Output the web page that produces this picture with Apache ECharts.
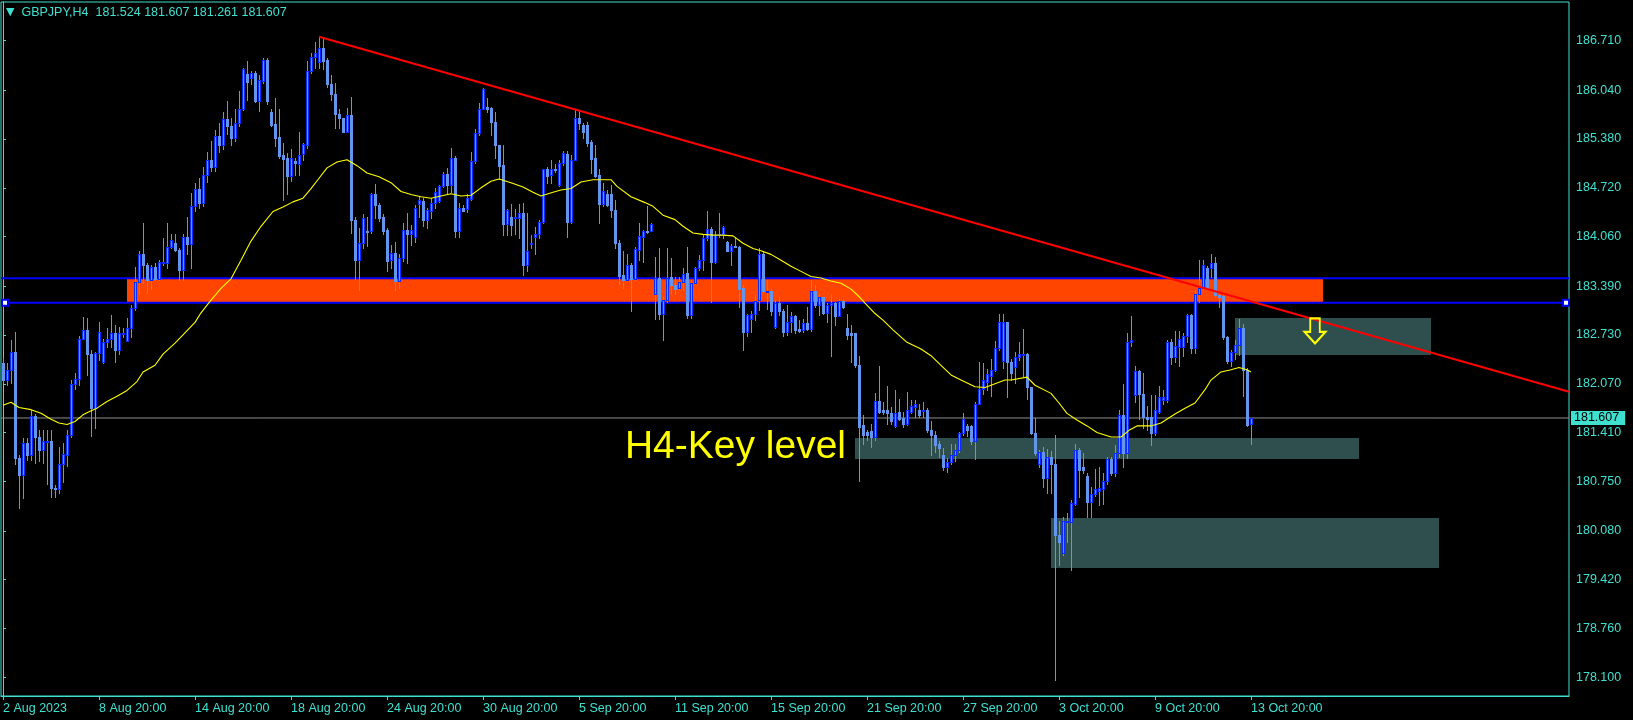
<!DOCTYPE html>
<html><head><meta charset="utf-8">
<script src="https://cdn.jsdelivr.net/npm/echarts@6.0.0/dist/echarts.min.js"></script>
<style>html,body{margin:0;padding:0;background:#000;}#c{width:1633px;height:720px;}</style>
</head><body><div id="c"></div>
<script>
// ---------- DATA ----------
const symbolName = 'GBPJPY,H4';
const xLabels = ['2 Aug 2023','8 Aug 20:00','14 Aug 20:00','18 Aug 20:00','24 Aug 20:00','30 Aug 20:00','5 Sep 20:00','11 Sep 20:00','15 Sep 20:00','21 Sep 20:00','27 Sep 20:00','3 Oct 20:00','9 Oct 20:00','13 Oct 20:00'];
const yTicks = [178.100,178.760,179.420,180.080,180.750,181.410,182.070,182.730,183.390,184.060,184.720,185.380,186.040,186.710];

const open = [
182.35,182.12,182.26,182.50,181.06,180.84,181.27,181.11,181.63,181.35,
181.17,181.29,181.29,180.66,180.64,180.98,181.11,181.38,182.07,182.13,
182.67,182.80,182.47,181.74,182.48,182.37,182.63,182.68,182.75,182.53,
182.75,182.65,182.82,183.09,183.44,183.83,183.67,183.47,183.65,183.49,
183.70,183.70,183.92,183.98,183.88,183.61,184.05,183.96,184.48,184.70,
184.52,184.90,185.10,185.00,185.42,185.30,185.65,185.55,185.40,185.60,
185.79,186.26,186.21,186.27,185.90,186.17,186.45,185.75,185.59,185.41,
185.17,185.12,184.88,185.08,185.04,185.18,185.30,186.30,186.49,186.42,
186.61,186.45,186.12,185.99,185.72,185.66,185.48,185.70,184.29,183.75,
183.97,184.14,184.13,184.63,184.49,184.32,184.15,183.74,183.84,183.46,
183.77,184.15,184.10,184.05,184.50,184.54,184.28,184.41,184.52,184.54,
184.74,184.91,184.76,185.13,184.14,184.45,184.44,184.57,185.08,185.46,
185.79,185.81,185.80,185.61,185.30,185.03,184.23,184.33,184.31,184.31,
184.38,183.68,183.97,184.06,184.10,184.26,184.97,184.89,184.98,184.76,
185.05,185.18,184.26,185.10,185.67,185.57,185.57,185.34,185.12,184.89,
184.50,184.64,184.64,184.42,183.98,183.54,183.48,183.68,183.49,183.88,
184.06,184.14,184.14,183.29,183.50,183.02,183.20,183.51,183.41,183.36,
183.45,183.57,183.00,183.43,183.63,183.74,184.04,184.16,183.72,184.08,
184.10,183.99,183.87,183.93,183.92,183.36,182.77,182.95,183.01,183.20,
183.83,183.32,183.33,182.84,183.16,183.05,182.77,182.90,182.99,182.81,
182.80,182.89,182.81,183.32,183.13,183.24,183.03,183.13,183.16,182.99,
183.19,182.82,182.75,182.75,182.33,181.51,181.42,181.43,181.35,181.84,
181.71,181.71,181.67,181.50,181.69,181.61,181.53,181.69,181.76,181.71,
181.70,181.71,181.44,181.38,181.25,181.11,180.95,181.01,181.11,181.17,
181.40,181.50,181.50,181.29,181.80,182.00,182.10,182.17,182.26,182.55,
182.38,182.90,182.37,182.30,182.43,182.46,182.47,182.02,181.40,180.98,
181.15,180.80,181.08,180.99,180.02,179.78,180.20,180.20,180.45,181.17,
180.94,180.82,180.47,180.58,180.62,180.64,180.75,181.05,180.86,181.13,
181.65,181.13,182.64,181.92,182.24,181.93,181.62,181.62,181.40,181.69,
181.85,181.85,182.64,182.43,182.57,182.57,182.72,183.00,182.56,183.29,
183.37,183.63,183.63,183.71,183.27,183.26,182.70,182.38,182.50,182.60,
182.83,182.26,181.524];

const high = [
182.42,182.35,182.66,182.77,181.10,181.33,181.33,181.71,181.66,181.45,
181.45,181.45,181.45,180.70,181.22,181.27,181.44,182.12,182.21,182.71,
182.97,182.96,182.53,182.50,182.90,182.68,182.82,183.00,182.86,182.84,
182.82,182.96,183.14,183.65,183.86,184.25,183.70,183.68,183.70,183.75,
184.04,184.24,184.10,184.10,183.90,184.10,184.33,184.65,184.78,184.85,
185.00,185.20,185.35,185.50,185.60,185.75,185.90,185.66,185.79,186.03,
186.34,186.43,186.30,186.30,186.25,186.48,186.47,185.78,185.93,185.78,
185.33,185.19,185.24,185.12,185.47,185.33,186.43,186.54,186.69,186.77,
186.76,186.48,186.25,186.14,185.78,185.67,185.80,185.95,184.32,184.18,
184.36,184.33,184.65,184.77,184.51,184.36,184.17,183.95,183.99,183.82,
184.24,184.38,184.22,184.49,184.61,184.58,184.45,184.58,184.72,184.76,
184.94,184.99,185.26,185.15,184.51,184.49,184.63,185.21,185.51,185.87,
186.07,185.93,185.82,185.75,185.30,185.30,184.44,184.50,184.43,184.50,
184.51,184.38,184.08,184.19,184.29,184.98,185.00,185.10,185.04,185.10,
185.22,185.22,185.16,185.77,185.76,185.60,185.61,185.37,185.30,184.98,
184.79,184.69,184.76,184.55,184.01,183.86,183.83,183.71,183.92,184.25,
184.15,184.47,184.24,183.79,183.90,183.25,183.90,183.77,183.52,183.52,
183.63,183.92,183.47,183.65,183.81,184.09,184.40,184.19,184.13,184.38,
184.20,184.00,183.96,184.06,183.93,183.40,183.02,183.05,183.27,183.90,
183.87,183.47,183.36,183.20,183.25,183.08,183.13,183.04,183.00,182.93,
182.95,183.11,183.47,183.41,183.28,183.25,183.16,183.28,183.18,183.22,
183.21,183.02,182.86,182.76,182.44,181.65,181.44,181.52,181.95,182.31,
181.83,182.04,181.75,181.98,181.87,181.69,181.96,181.85,181.85,181.80,
181.83,181.74,181.56,181.43,181.29,181.20,181.07,181.25,181.26,181.42,
181.67,181.53,181.51,181.83,182.37,182.35,182.27,182.40,182.65,183.02,
183.02,182.91,182.41,182.50,182.64,182.81,182.48,182.03,181.61,181.17,
181.22,181.19,181.16,181.38,180.22,180.27,180.32,180.50,181.25,181.20,
181.13,180.86,180.68,180.92,180.95,180.86,181.08,181.08,181.24,181.72,
182.07,182.75,182.99,182.31,182.25,182.21,181.77,181.92,181.92,182.04,
181.98,182.66,182.68,182.79,182.79,182.75,183.02,183.02,183.34,183.74,
183.74,183.66,183.82,183.78,183.33,183.29,182.71,182.53,182.66,182.94,
182.88,182.28,181.607];

const low = [
182.10,182.05,182.08,180.99,180.39,180.52,181.04,181.04,181.00,181.02,
181.00,180.72,180.54,180.54,180.59,180.74,180.96,181.35,182.00,182.05,
182.67,182.19,181.36,181.47,182.39,182.35,182.57,182.57,182.36,182.47,
182.70,182.65,182.70,183.07,183.29,183.43,183.30,183.35,183.47,183.48,
183.68,183.63,183.91,183.86,183.48,183.47,183.83,183.63,184.40,184.45,
184.48,184.80,184.95,184.95,185.20,185.25,185.45,185.30,185.35,185.55,
185.77,185.91,186.12,185.88,185.76,186.14,185.85,185.55,185.28,185.13,
184.55,184.63,184.81,184.90,184.90,185.10,185.26,186.27,186.34,186.34,
186.33,186.09,185.91,185.53,185.53,185.47,185.47,184.11,183.49,183.34,
183.91,183.93,184.11,184.31,184.27,184.09,183.59,183.64,183.34,183.37,
183.73,183.70,183.95,183.99,184.33,184.20,184.17,184.31,184.45,184.53,
184.73,184.63,184.66,184.06,184.05,184.40,184.39,184.55,185.06,185.44,
185.78,185.75,185.44,185.12,184.85,184.08,184.08,184.08,184.10,184.04,
183.54,183.59,183.90,183.83,184.04,184.25,184.78,184.78,184.94,184.74,
185.03,184.06,184.24,185.10,185.52,185.39,185.28,184.92,184.87,184.25,
184.47,184.47,184.32,183.90,183.42,183.37,183.47,183.06,183.48,183.75,
183.72,184.11,184.13,182.94,182.94,182.66,183.18,183.29,183.29,183.35,
183.34,182.96,182.96,183.42,183.61,183.61,184.02,183.18,183.71,184.06,
184.04,183.86,183.68,183.92,183.11,182.53,182.71,182.77,182.93,183.07,
183.31,183.08,183.00,182.83,183.00,182.71,182.73,182.77,182.76,182.77,
182.77,182.80,182.78,183.11,183.00,183.02,182.91,182.45,182.86,182.98,
183.10,182.68,182.37,182.30,180.76,181.26,181.31,181.22,181.31,181.68,
181.66,181.53,181.53,181.49,181.58,181.49,181.51,181.67,181.62,181.62,
181.62,181.42,181.11,181.15,181.08,180.90,180.87,180.98,181.02,181.15,
181.38,181.37,181.26,181.05,181.79,181.93,181.99,181.90,182.24,182.53,
182.28,181.89,182.12,182.08,182.39,182.17,181.87,181.39,181.11,180.95,
180.68,180.59,180.59,178.06,179.62,179.75,179.93,179.55,180.43,180.54,
180.86,180.27,180.27,180.55,180.43,180.45,180.72,180.84,180.82,181.08,
180.95,181.06,182.58,181.83,181.60,181.47,181.44,181.24,181.38,181.67,
181.80,181.83,182.34,182.36,182.31,182.45,182.64,182.48,182.48,183.18,
183.34,183.36,183.52,183.25,183.11,182.68,182.35,182.31,182.40,182.46,
181.90,181.50,181.261];

const close = [
182.12,182.26,182.50,181.06,180.84,181.27,181.11,181.63,181.35,181.17,
181.29,181.30,180.66,180.64,180.98,181.12,181.38,182.07,182.13,182.67,
182.80,182.47,181.74,182.48,182.77,182.63,182.68,182.75,182.53,182.75,
182.76,182.82,183.09,183.44,183.83,183.67,183.47,183.65,183.49,183.72,
183.72,183.92,184.02,183.88,183.61,184.05,183.96,184.48,184.70,184.52,
184.90,185.10,185.00,185.42,185.30,185.65,185.55,185.40,185.60,185.79,
186.33,186.15,186.27,185.90,186.18,186.45,185.90,185.57,185.39,185.15,
185.11,184.88,185.12,185.06,185.17,185.31,186.30,186.49,186.54,186.61,
186.44,186.12,185.99,185.72,185.66,185.48,185.70,184.29,183.75,183.97,
184.31,184.12,184.64,184.49,184.31,184.14,183.73,183.84,183.46,183.77,
184.15,184.10,184.15,184.45,184.55,184.28,184.42,184.52,184.67,184.74,
184.91,184.76,185.13,184.14,184.45,184.41,184.58,185.08,185.46,185.79,
186.06,185.79,185.61,185.30,185.02,184.23,184.42,184.22,184.33,184.38,
183.68,183.86,183.98,184.10,184.26,184.97,184.88,184.98,184.98,185.05,
185.19,184.26,185.10,185.67,185.60,185.47,185.33,185.11,184.88,184.50,
184.68,184.49,184.42,183.97,183.53,183.48,183.68,183.49,183.89,184.07,
184.14,184.14,184.23,183.50,183.02,183.20,183.50,183.41,183.35,183.45,
183.56,183.00,183.43,183.64,183.74,184.04,184.16,183.72,184.08,184.10,
184.19,183.87,183.93,183.93,183.35,182.77,183.00,183.01,183.19,183.83,
183.32,183.33,183.05,183.16,183.05,182.77,182.90,182.99,182.80,182.78,
182.89,182.81,183.32,183.13,183.24,183.03,183.13,183.16,182.99,183.19,
183.11,182.73,182.73,182.32,181.49,181.38,181.38,181.35,181.84,181.69,
181.69,181.67,181.57,181.68,181.60,181.53,181.71,181.77,181.79,181.65,
181.71,181.44,181.38,181.24,181.20,180.95,181.01,181.11,181.17,181.40,
181.59,181.44,181.29,181.80,182.00,182.12,182.20,182.26,182.55,182.90,
182.90,182.37,182.21,182.43,182.47,182.47,182.02,181.40,181.13,181.15,
180.80,181.08,180.99,180.02,179.93,180.22,180.22,180.46,181.17,180.90,
180.90,180.47,180.58,180.64,180.66,180.75,181.05,180.86,181.13,181.65,
181.13,182.64,182.66,182.24,181.93,181.62,181.60,181.40,181.72,181.89,
181.89,182.64,182.43,182.58,182.68,182.72,183.00,182.56,183.29,183.37,
183.68,183.37,183.71,183.27,183.25,182.70,182.38,182.50,182.60,182.83,
182.26,181.51,181.607];

// moving average (bar position, price)
const maX = [0,2,4,7,9.5,12,14,16,18,20,21.5,23.5,26,28.5,31,33.5,35,38,40,43,45,48,49.5,52,54.5,57,59.5,62,64.5,67.5,70,72.5,75,77,79,81,83.5,86,88.5,91,94,97,99.5,102,104.5,107,109.5,112,114.5,117,119.5,122,124,127,130,132.5,134.5,137.5,139.5,142,144.5,147.5,152,153.5,157,160.5,162.5,165,168,170,172.5,175,177.5,180,182.5,185,187.5,189.5,192,194.5,197,199.5,202,204.5,207,209.5,212,214,215.5,218,220,222.5,226,229.5,232,234.5,237,239.5,243,245.5,248,250.5,252,256,258,262,264,266,268.5,271,273.5,277,279.5,281.5,283.5,287,289.5,293,295.5,298,300.5,302,304.5,307,309,311,312];
const maY = [181.78,181.82,181.75,181.72,181.67,181.59,181.54,181.52,181.56,181.65,181.69,181.74,181.83,181.90,181.98,182.10,182.23,182.32,182.47,182.62,182.73,182.90,183.03,183.20,183.36,183.49,183.74,184.00,184.20,184.40,184.46,184.53,184.58,184.71,184.85,184.99,185.07,185.10,185.02,184.92,184.87,184.79,184.67,184.63,184.60,184.58,184.61,184.64,184.61,184.62,184.72,184.81,184.84,184.79,184.73,184.66,184.61,184.66,184.69,184.71,184.80,184.83,184.83,184.74,184.60,184.52,184.47,184.35,184.29,184.20,184.11,184.09,184.08,184.08,184.07,183.97,183.90,183.87,183.82,183.74,183.66,183.59,183.52,183.50,183.46,183.43,183.35,183.25,183.16,183.02,182.93,182.80,182.63,182.54,182.45,182.32,182.19,182.12,182.03,182.02,182.07,182.12,182.12,182.16,182.05,181.94,181.81,181.67,181.58,181.50,181.41,181.35,181.35,181.44,181.50,181.50,181.54,181.66,181.74,181.81,181.99,182.12,182.23,182.26,182.29,182.26,182.23];

// drawn objects (bar position / price)
const trendX = [79, 391.5];
const trendY = [186.764, 181.963];
const levelY = [183.497, 183.167];
const anchorX = [0.5, 390.75];
const zoneLeft  = [31, 308, 213, 262];
const zoneRight = [330, 357, 339, 359];
const zoneHigh  = [183.49, 182.96, 181.337, 180.255];
const zoneLow   = [183.17, 182.459, 181.053, 179.578];
const arrowX = [328];
const arrowY = [182.785];
const noteX = [210.75];
const noteY = [181.208];
const noteText = ['H4-Key level'];

// ---------- STYLE ----------
const FG = '#40E0D0';
const CANDLE = '#6495ED';
const BULL_EDGE = '#0a2cff';
const zoneColors = ['#FF4500', '#2F4F4F', '#2F4F4F', '#2F4F4F'];
const FONT = '"Liberation Sans", Arial, sans-serif';
const SLOTS = 392;
const STEP = 24;
const yMin = 177.847, yMax = 187.2334;

const last = close.length - 1;
const categories = Array.from({length: SLOTS}, (_, i) => String(i));
const candleData = open.map((o, i) => [i, o, close[i], low[i], high[i]]);
const maData = maX.map((x, i) => [x, maY[i]]);
const zoneData = zoneLeft.map((x, i) => [x, zoneRight[i], zoneHigh[i], zoneLow[i], i]);
const isLabelIdx = (idx) => idx % STEP === 0 && idx / STEP < xLabels.length;

function renderCandle(params, api) {
  const i = api.value(0), o = api.value(1), c = api.value(2), l = api.value(3), h = api.value(4);
  const pO = api.coord([i, o]), pC = api.coord([i, c]);
  const x = Math.round(pO[0]);
  const yH = Math.round(api.coord([i, h])[1]);
  const yL = Math.round(api.coord([i, l])[1]);
  const top = Math.round(Math.min(pO[1], pC[1]));
  const bot = Math.round(Math.max(pO[1], pC[1]));
  const bh = Math.max(1, bot - top);
  const bull = c > o;
  const ch = [{type: 'rect', shape: {x: x, y: yH, width: 1, height: Math.max(1, yL - yH + 1)}, style: {fill: CANDLE}}];
  if (bull) {
    ch.push({type: 'rect', shape: {x: x - 1, y: top, width: 3, height: bh + 1}, style: {fill: BULL_EDGE}});
    if (bh > 1) ch.push({type: 'rect', shape: {x: x, y: top + 1, width: 1, height: bh - 1}, style: {fill: CANDLE}});
  } else {
    ch.push({type: 'rect', shape: {x: x - 1, y: top, width: 3, height: bh + 1}, style: {fill: CANDLE}});
  }
  return {type: 'group', children: ch};
}

function renderZone(params, api) {
  const p0 = api.coord([api.value(0), api.value(2)]);
  const p1 = api.coord([api.value(1), api.value(3)]);
  const x0 = Math.round(p0[0]), y0 = Math.round(p0[1]);
  return {type: 'rect', shape: {x: x0, y: y0, width: Math.round(p1[0]) - x0, height: Math.round(p1[1]) - y0},
          style: {fill: zoneColors[api.value(4)]}};
}

const chart = echarts.init(document.getElementById('c'), null, {renderer: 'canvas'});
const levelSeries = levelY.map(y => ({
  type: 'line', xAxisIndex: 1, yAxisIndex: 0, z: 2, silent: true, symbol: 'none',
  data: [[-0.5, y], [SLOTS - 0.5, y]], lineStyle: {color: '#0000FF', width: 2}
}));

chart.setOption({
  backgroundColor: '#000',
  animation: false,
  title: {
    text: '{tri|▼}  ' + symbolName + '  ' + [open[last], high[last], low[last], close[last]].map(v => v.toFixed(3)).join(' '),
    left: 6, top: 6, padding: 0,
    textStyle: {color: FG, fontSize: 12.5, fontWeight: 'normal', fontFamily: FONT,
      rich: {tri: {fontSize: 11, color: FG, fontFamily: '"DejaVu Sans", sans-serif'}}}
  },
  grid: {left: 1, right: 64, top: 2, bottom: 24, show: true, borderColor: FG, borderWidth: 1, backgroundColor: '#000'},
  xAxis: [{
    type: 'category', data: categories, boundaryGap: true, position: 'bottom',
    axisLine: {show: true, lineStyle: {color: FG, width: 1}},
    axisTick: {show: true, length: 4, alignWithLabel: true, interval: (idx) => isLabelIdx(idx), lineStyle: {color: FG}},
    axisLabel: {show: true, interval: (idx) => isLabelIdx(idx), formatter: (v, idx) => xLabels[Math.round(idx / STEP)] || '',
      align: 'left', color: FG, fontSize: 12.5, fontFamily: FONT, margin: 6},
    splitLine: {show: false}
  }, {
    type: 'value', min: -0.5, max: SLOTS - 0.5, show: false
  }],
  yAxis: [{
    type: 'value', position: 'right', min: yMin, max: yMax,
    splitLine: {show: false},
    axisLine: {show: true, lineStyle: {color: FG, width: 1}},
    axisTick: {show: true, length: 3, customValues: yTicks, lineStyle: {color: FG}},
    axisLabel: {show: true, customValues: yTicks, formatter: (v) => v.toFixed(3), color: FG, fontSize: 12.5, fontFamily: FONT, margin: 7}
  }],
  series: [
    {type: 'custom', xAxisIndex: 1, yAxisIndex: 0, z: 1, silent: true, renderItem: renderZone,
      encode: {x: [0, 1], y: [2, 3]}, data: zoneData},
    ...levelSeries,
    {type: 'line', xAxisIndex: 1, yAxisIndex: 0, z: 2, silent: true, symbol: 'none',
      data: [[-0.5, close[last]], [SLOTS - 0.5, close[last]]], lineStyle: {color: '#8f8f8f', width: 1},
      endLabel: {show: true, formatter: () => close[last].toFixed(3), color: '#000', backgroundColor: FG,
        fontSize: 12.5, fontFamily: FONT, padding: [1, 6, 0, 3], distance: 2}},
    {type: 'custom', xAxisIndex: 0, yAxisIndex: 0, z: 3, silent: true, renderItem: renderCandle,
      encode: {x: 0, y: [1, 2, 3, 4]}, data: candleData},
    {type: 'line', xAxisIndex: 1, yAxisIndex: 0, z: 4, silent: true, symbol: 'none', data: maData,
      lineStyle: {color: '#FFFF00', width: 1.1}},
    {type: 'line', xAxisIndex: 1, yAxisIndex: 0, z: 5, silent: true, symbol: 'none',
      data: trendX.map((x, i) => [x, trendY[i]]), lineStyle: {color: '#FF0000', width: 2}},
    {type: 'scatter', xAxisIndex: 1, yAxisIndex: 0, z: 6, silent: true, symbol: 'rect', symbolSize: 6,
      data: anchorX.map(x => [x, levelY[1]]), itemStyle: {color: '#FFFFFF', borderColor: '#0000FF', borderWidth: 2, opacity: 1}},
    {type: 'scatter', xAxisIndex: 1, yAxisIndex: 0, z: 6, silent: true,
      symbol: 'path://M6,0L16,0L16,14L22,14L11,26L0,14L6,14Z', symbolSize: [21, 25],
      data: arrowX.map((x, i) => [x, arrowY[i]]),
      itemStyle: {color: 'rgba(0,0,0,0)', borderColor: '#FFFF00', borderWidth: 2, opacity: 1}},
    {type: 'scatter', xAxisIndex: 1, yAxisIndex: 0, z: 6, silent: true, symbolSize: 1,
      data: noteX.map((x, i) => [x, noteY[i]]), itemStyle: {color: 'rgba(0,0,0,0)', opacity: 1},
      label: {show: true, position: 'inside', align: 'right', verticalAlign: 'middle', opacity: 1,
        formatter: (p) => noteText[p.dataIndex], color: '#FFFF00', fontSize: 39, fontFamily: FONT}}
  ]
});
</script>
</body></html>
